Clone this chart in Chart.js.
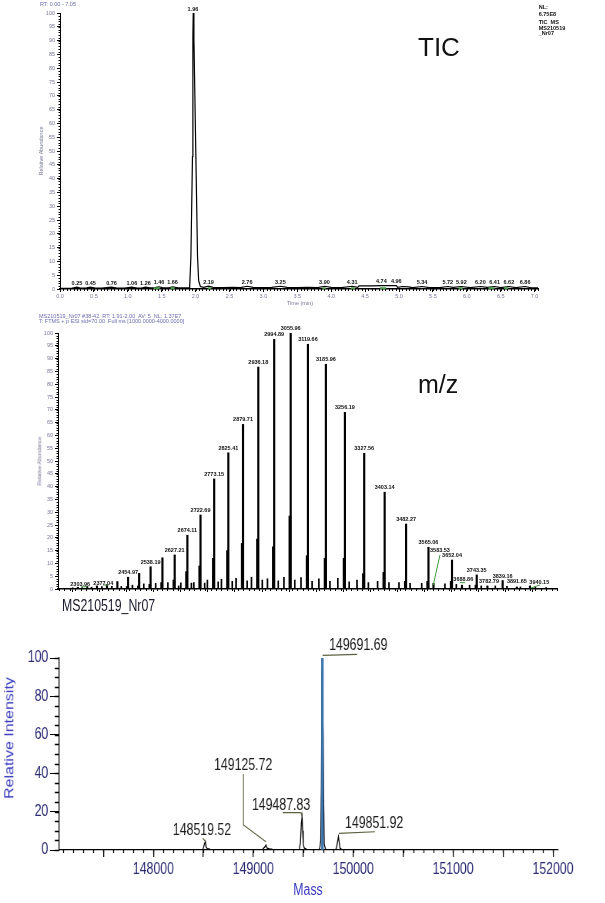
<!DOCTYPE html>
<html>
<head>
<meta charset="utf-8">
<title>MS210519_Nr07</title>
<script src="https://cdn.jsdelivr.net/npm/chart.js@4.4.1/dist/chart.umd.min.js"></script>
<style>
  html, body { margin: 0; padding: 0; background: #fff; }
  body { width: 605px; height: 903px; position: relative; overflow: hidden; font-family: Arial, "Liberation Sans", sans-serif; }
  .panel { position: absolute; left: 0; }
  .txt { position: absolute; white-space: nowrap; line-height: 1; }
  .tiny { font-size: 5.5px; color: #6b6bb0; }
  .nl { font-size: 5.5px; color: #111; font-weight: bold; left: 538.7px; }
  .rot { transform: translate(-50%, -50%) rotate(-90deg); }
</style>
</head>
<body>

<div class="panel" style="top:0;width:605px;height:310px"><canvas id="ticChart"></canvas></div>
<div class="panel" style="top:310px;width:605px;height:290px"><canvas id="mzChart"></canvas></div>

<!-- panel 3 is drawn wide and squeezed, like the narrow font of the original -->
<div class="panel" style="top:595px;width:786px;height:308px;transform:scaleX(0.77);transform-origin:0 0">
  <canvas id="massChart"></canvas>
  <div class="txt" style="left:80.5px;top:3.2px;font-size:16px;color:#1b1b2b">MS210519_Nr07</div>
  <div class="txt rot" style="left:11.7px;top:142.7px;font-size:16px;color:#3a3abf">Relative Intensity</div>
  <div class="txt" style="left:400px;top:286.5px;font-size:16px;color:#3a3abf;transform:translateX(-50%)">Mass</div>
</div>

<!-- header texts -->
<div class="txt tiny" style="left:40px;top:1.6px">RT: 0.00 - 7.05</div>
<div class="txt nl" style="top:5.3px">NL:</div>
<div class="txt nl" style="top:12px">6.75E8</div>
<div class="txt nl" style="top:20.3px">TIC&nbsp; MS</div>
<div class="txt nl" style="top:26px">MS210519</div>
<div class="txt nl" style="top:31.3px">_Nr07</div>
<div class="txt" style="left:418px;top:34px;font-size:26px;color:#111">TIC</div>
<div class="txt tiny rot" style="left:42px;top:151px;color:#77779a">Relative Abundance</div>
<div class="txt tiny" style="left:300px;top:300.8px;color:#77779a;transform:translateX(-50%)">Time (min)</div>

<div class="txt tiny" style="left:39px;top:313.6px">MS210519_Nr07 #38-42&nbsp; RT: 1.91-2.00&nbsp; AV: 5&nbsp; NL: 1.37E7</div>
<div class="txt tiny" style="left:39px;top:319.3px">T: FTMS + p ESI sid=70.00&nbsp; Full ms [1000.0000-4000.0000]</div>
<div class="txt" style="left:418px;top:372px;font-size:25px;color:#111">m/z</div>
<div class="txt tiny rot" style="left:40px;top:461px;color:#77779a">Relative Abundance</div>

<script>
// ---------- TIC chromatogram ----------
const ticTime = [0.00, 0.10, 0.18, 0.25, 0.30, 0.38, 0.45, 0.52, 0.62, 0.76, 0.84, 0.95, 1.06, 1.14, 1.20, 1.26,
  1.33, 1.40, 1.46, 1.52, 1.60, 1.66, 1.74, 1.84, 1.912, 1.931, 1.954, 1.960, 1.965, 1.975, 2.004, 2.028, 2.045,
  2.070, 2.12, 2.19, 2.26, 2.40, 2.55, 2.66, 2.76, 2.85, 3.00, 3.12, 3.25, 3.35, 3.50, 3.65, 3.80, 3.90, 4.00,
  4.15, 4.31, 4.39, 4.41, 4.60, 4.74, 4.96, 4.98, 5.05, 5.14, 5.20, 5.34, 5.45, 5.60, 5.72, 5.80, 5.92, 6.05,
  6.20, 6.30, 6.41, 6.50, 6.62, 6.72, 6.86, 6.95, 7.05];
const ticAbund = [0.2, 0.2, 0.3, 0.7, 0.3, 0.3, 0.7, 0.3, 0.3, 0.7, 0.3, 0.3, 0.7, 0.3, 0.3, 0.7,
  0.4, 0.5, 0.8, 0.4, 0.4, 0.8, 0.4, 0.4, 0.5, 12, 48, 91, 100, 91, 48, 12, 3,
  0.9, 0.6, 1.0, 0.6, 0.5, 0.6, 0.5, 1.0, 0.6, 0.5, 0.6, 1.0, 0.6, 0.5, 0.6, 0.5, 1.0, 0.6,
  0.5, 1.0, 0.6, 1.1, 1.1, 1.2, 1.2, 0.6, 0.9, 0.8, 0.5, 0.9, 0.5, 0.5, 0.9, 0.6, 0.9, 0.5,
  0.9, 0.6, 0.9, 0.5, 0.9, 0.5, 0.9, 0.4, 0.4];
const ticPeakTime = [0.25, 0.45, 0.76, 1.06, 1.26, 1.46, 1.66, 1.96, 2.19, 2.76, 3.25, 3.90, 4.31, 4.74, 4.96,
  5.34, 5.72, 5.92, 6.20, 6.41, 6.62, 6.86];
const ticPeakAbund = [0.7, 0.7, 0.7, 0.7, 0.7, 0.8, 0.8, 100, 1.0, 1.0, 1.0, 1.0, 1.0, 1.2, 1.2,
  0.9, 0.9, 0.9, 0.9, 0.9, 0.9, 0.9];
// green integration marks on the baseline
const ticMarkStart = [1.38, 1.63, 2.18, 3.87, 4.29, 4.72, 5.88, 6.32, 6.55];
const ticMarkEnd = [1.47, 1.69, 2.23, 3.92, 4.35, 4.81, 5.94, 6.41, 6.61];
const ticXTicks = [0, 0.5, 1, 1.5, 2, 2.5, 3, 3.5, 4, 4.5, 5, 5.5, 6, 6.5, 7];
const abundTicks = [0, 5, 10, 15, 20, 25, 30, 35, 40, 45, 50, 55, 60, 65, 70, 75, 80, 85, 90, 95, 100];

// ---------- m/z spectrum ----------
const mzMain = [2269.07, 2303.96, 2339.90, 2377.04, 2415.40, 2454.97, 2495.87, 2538.19, 2581.90, 2627.21,
  2674.11, 2722.69, 2773.15, 2825.41, 2879.71, 2936.18, 2994.89, 3055.96, 3119.66, 3185.96, 3256.19,
  3327.56, 3403.14, 3482.27, 3565.06, 3583.53, 3652.04, 3688.86, 3743.35, 3782.79, 3839.16, 3891.65, 3940.15];
const mzMainInt = [0.7, 1.0, 1.2, 1.6, 2.9, 4.6, 6.1, 8.7, 12.2, 13.3,
  21.0, 28.9, 43.0, 53.2, 64.3, 86.7, 97.5, 100, 95.6, 87.8, 69.0,
  53.0, 37.8, 25.4, 16.3, 2.2, 11.3, 1.5, 5.5, 1.2, 3.3, 0.8, 1.2];
const mzLabelled = [0, 1, 0, 1, 0, 1, 0, 1, 0, 1,
  1, 1, 1, 1, 1, 1, 1, 1, 1, 1, 1,
  1, 1, 1, 1, 1, 1, 1, 1, 1, 1, 1, 1];
// shoulders just below each charge state
const mzSat = [2451.9, 2492.8, 2535.2, 2578.9, 2624.2, 2671.1, 2719.7, 2770.2, 2822.4, 2876.7, 2933.2,
  2991.9, 3052.9, 3116.7, 3182.9, 3253.2, 3324.6, 3400.1, 3479.3, 3562.1, 3649.0, 3740.4];
const mzSatInt = [1.0, 1.2, 1.8, 2.5, 3.5, 6.8, 9.0, 12.0, 15.0, 17.8, 19.5,
  16.5, 28.5, 13.0, 12.0, 12.0, 6.0, 6.5, 3.0, 3.0, 3.0, 1.5];
// small adduct / noise peaks
const mzMinor = [2250, 2285, 2320, 2358, 2395, 2430, 2471, 2513, 2557, 2602, 2642, 2650, 2689, 2698, 2738,
  2748, 2788, 2800, 2840, 2854, 2895, 2911, 2951, 2970, 3010, 3031, 3071, 3094, 3135, 3160, 3201, 3230,
  3272, 3301, 3343, 3377, 3419, 3456, 3497, 3540, 3626, 3668, 3717, 3760, 3812, 3855, 3905, 3960, 4000];
const mzMinorInt = [0.5, 0.6, 0.7, 0.9, 1.0, 1.0, 1.5, 2.0, 2.2, 2.5, 1.2, 2.4, 2.3, 2.5, 2.3,
  3.5, 2.8, 3.8, 3.0, 4.2, 3.2, 4.6, 3.5, 4.0, 3.2, 4.6, 3.5, 4.5, 3.0, 4.0, 3.0, 4.2,
  2.8, 3.5, 2.5, 3.0, 2.5, 2.5, 2.2, 2.2, 2.0, 1.8, 1.5, 1.2, 1.2, 1.0, 0.8, 0.7, 0.6];

// ---------- deconvoluted mass spectrum ----------
const massProfile = [147055, 148490, 148500, 148510, 148519.5, 148528, 148540, 148560, 148575,
  149090, 149100, 149113, 149125.7, 149138, 149160, 149185, 149200,
  149460, 149472, 149481, 149488, 149494, 149500, 149510, 149530, 149545,
  149655, 149665, 149675, 149681, 149687, 149693, 149699, 149704, 149710, 149722, 149740,
  149820, 149832, 149842, 149851.9, 149860, 149868, 149880, 149895, 152050];
const massProfileInt = [0, 0, 1, 3, 4.5, 1.5, 0.6, 0.6, 0,
  0, 0.8, 1.4, 2.6, 1.0, 0.6, 0.4, 0,
  0, 4, 14, 17.2, 10, 3, 1, 0.5, 0,
  0, 1, 5, 33, 94, 94, 60, 26, 3, 0.5, 0,
  0, 1, 4, 6.9, 4, 1, 0.5, 0, 0];
const massPeaks = [148519.52, 149125.72, 149487.83, 149691.69, 149851.92];
const massPeakInt = [4.5, 2.6, 17.2, 100, 6.9];
const massTicks = [147500, 148000, 148500, 149000, 149500, 150000, 150500, 151000, 151500, 152000];
const intensityTicks = [0, 20, 40, 60, 80, 100];

Chart.defaults.font.family = 'Arial, "Liberation Sans", sans-serif';

// small ticks between the labelled ones
function minorTicks(cfg) {
  return {
    id: 'minorTicks',
    afterDraw(chart) {
      const { ctx, chartArea, scales: { x, y } } = chart;
      ctx.save();
      ctx.strokeStyle = '#000';
      ctx.lineWidth = cfg.width || 1;
      ctx.beginPath();
      for (let k = Math.ceil(x.min / cfg.xStep - 1e-9); k * cfg.xStep <= x.max + 1e-9; k++) {
        const px = Math.round(x.getPixelForValue(k * cfg.xStep)) + 0.5;
        ctx.moveTo(px, chartArea.bottom);
        ctx.lineTo(px, chartArea.bottom + cfg.xLen);
      }
      for (let k = Math.ceil(y.min / cfg.yStep - 1e-9); k * cfg.yStep <= y.max + 1e-9; k++) {
        const py = Math.round(y.getPixelForValue(k * cfg.yStep)) + 0.5;
        ctx.moveTo(chartArea.left, py);
        ctx.lineTo(chartArea.left - cfg.yLen, py);
      }
      ctx.stroke();
      ctx.restore();
    }
  };
}

// peak annotations, with optional leader lines
function peakLabels(items, style) {
  return {
    id: 'peakLabels',
    afterDatasetsDraw(chart) {
      const { ctx, scales: { x, y } } = chart;
      ctx.save();
      ctx.font = style.font;
      ctx.textAlign = 'center';
      ctx.textBaseline = 'middle';
      items.forEach(it => {
        const px = x.getPixelForValue(it.x);
        const py = y.getPixelForValue(it.y);
        const s = style.special[it.text] || {};
        const off = s.off || style.off;
        if (s.lead) {
          ctx.strokeStyle = s.leadColor || style.leadColor;
          ctx.lineWidth = style.leadWidth;
          ctx.beginPath();
          s.lead.forEach((p, k) => k ? ctx.lineTo(px + p[0], py + p[1]) : ctx.moveTo(px + p[0], py + p[1]));
          ctx.stroke();
        }
        ctx.fillStyle = style.color;
        ctx.fillText(it.text, px + off[0], py + off[1]);
      });
      ctx.restore();
    }
  };
}

function smallAxis(extra) {
  return Object.assign({
    grid: { drawOnChartArea: false, color: '#000', tickLength: 3, lineWidth: 1 },
    border: { color: '#000', width: 1 },
  }, extra);
}

// ---- panel 1: TIC ----
const ticPts = ticTime.map((t, i) => ({ x: t, y: ticAbund[i] }));
const ticMarks = [];
ticMarkStart.forEach((s, i) => {
  ticMarks.push({ x: s, y: 0.3 }, { x: ticMarkEnd[i], y: 0.3 }, { x: ticMarkEnd[i], y: null });
});

new Chart(document.getElementById('ticChart'), {
  type: 'line',
  data: {
    datasets: [
      { data: ticMarks, borderColor: '#3f9a3f', borderWidth: 2, pointRadius: 0, spanGaps: false },
      { data: ticPts, borderColor: '#000', borderWidth: 1.2, pointRadius: 0, tension: 0 }
    ]
  },
  options: {
    animation: false, responsive: true, maintainAspectRatio: false,
    layout: { padding: { top: 13, right: 67, bottom: 0, left: 0 } },
    plugins: { legend: { display: false }, tooltip: { enabled: false } },
    scales: {
      x: smallAxis({
        type: 'linear', min: 0, max: 7.05,
        border: { color: '#000', width: 1.5 },
        afterBuildTicks: s => { s.ticks = ticXTicks.map(v => ({ value: v })); },
        afterFit: s => { s.height = 21; },
        ticks: { font: { size: 5.5 }, color: '#77779a', padding: 0.7, maxRotation: 0, autoSkip: false,
          callback: v => v.toFixed(1) }
      }),
      y: smallAxis({
        min: 0, max: 100,
        afterBuildTicks: s => { s.ticks = abundTicks.map(v => ({ value: v })); },
        afterFit: s => { s.width = 60; },
        ticks: { font: { size: 5.5 }, color: '#77779a', padding: 2, autoSkip: false, callback: v => String(v) }
      })
    }
  },
  plugins: [
    minorTicks({ xStep: 0.05, xLen: 2, yStep: 1, yLen: 1.5 }),
    peakLabels(ticPeakTime.map((t, i) => ({ x: t, y: ticPeakAbund[i], text: t.toFixed(2) })),
      { font: 'bold 5.5px Arial, "Liberation Sans", sans-serif', color: '#111', off: [0, -4], special: {},
        leadColor: '#3f9a3f', leadWidth: 1 })
  ]
});

// ---- panel 2: m/z ----
const toPts = (xs, ys) => xs.map((v, i) => ({ x: v, y: ys[i] }));
const mzStyle = {
  font: 'bold 5.5px Arial, "Liberation Sans", sans-serif', color: '#111', off: [0, -4.5],
  leadColor: '#3f9a3f', leadWidth: 1,
  special: {
    '2303.96': { off: [-7, -2.4], lead: [[-6, 0.3], [0, 0.3]] },
    '2377.04': { off: [-3.7, -1.6], lead: [[-3.7, 0.1], [1.3, 0.1]] },
    '3583.53': { off: [6.5, -32.7], lead: [[6.5, -28.4], [-0.2, 1.6]] },
    '3688.86': { off: [1.3, -5.9], lead: [[-2, -2.5], [3, -2.5]] },
    '3782.79': { off: [1.6, -4.2] },
    '3891.65': { off: [0, -5] },
    '3940.15': { off: [9.3, -3.9], lead: [[1, 2.1], [10, -0.9]] }
  }
};
const mzItems = mzMain.map((v, i) => ({ x: v, y: mzMainInt[i], text: v.toFixed(2) }))
  .filter((it, i) => mzLabelled[i]);

new Chart(document.getElementById('mzChart'), {
  type: 'bar',
  data: {
    datasets: [
      { data: toPts(mzMain, mzMainInt), backgroundColor: '#000', barThickness: 1.5, grouped: false },
      { data: toPts(mzSat, mzSatInt), backgroundColor: '#000', barThickness: 2, grouped: false },
      { data: toPts(mzMinor, mzMinorInt), backgroundColor: '#000', barThickness: 1, grouped: false }
    ]
  },
  options: {
    animation: false, responsive: true, maintainAspectRatio: false,
    layout: { padding: { top: 23, right: 48, bottom: 0, left: 0 } },
    plugins: { legend: { display: false }, tooltip: { enabled: false } },
    scales: {
      x: smallAxis({
        type: 'linear', min: 2196, max: 4040, offset: false,
        border: { color: '#000', width: 1.5 },
        afterBuildTicks: s => {
          const t = [];
          for (let v = 2200; v <= 4000; v += 100) t.push({ value: v });
          s.ticks = t;
        },
        afterFit: s => { s.height = 11; },
        ticks: { display: false }
      }),
      y: smallAxis({
        min: 0, max: 100,
        afterBuildTicks: s => { s.ticks = abundTicks.map(v => ({ value: v })); },
        afterFit: s => { s.width = 58; },
        ticks: { font: { size: 5.5 }, color: '#77779a', padding: 2, autoSkip: false, callback: v => String(v) }
      })
    }
  },
  plugins: [minorTicks({ xStep: 20, xLen: 2, yStep: 1, yLen: 1.5 }), peakLabels(mzItems, mzStyle)]
});

// ---- panel 3: deconvoluted mass ----
const topPeak = massPeakInt.indexOf(Math.max(...massPeakInt));
const massStyle = {
  font: '16px Arial, "Liberation Sans", sans-serif', color: '#1c1c1c', off: [0, -12],
  leadColor: '#59623f', leadWidth: 1.2,
  special: {
    '148519.52': { off: [-4.3, -10.7], lead: [[-3.4, -3.1], [0, 0]] },
    '149125.72': { off: [-29.5, -79], lead: [[-29.1, -71], [-29.1, -20], [0, -3.3]] },
    '149487.83': { off: [-27.3, -11.3], lead: [[-25.1, -4.3], [-1.3, -4.3], [0, 0]] },
    '149691.69': { off: [46.5, -12.7], lead: [[0.3, -2.7], [45.2, -3.7]] },
    '149851.92': { off: [46.4, -12.7], lead: [[0.6, -3.4], [47.4, -5]] }
  }
};

new Chart(document.getElementById('massChart'), {
  type: 'line',
  data: {
    datasets: [
      { type: 'bar', data: [{ x: massPeaks[topPeak], y: massPeakInt[topPeak] }], backgroundColor: '#3b76b0',
        barThickness: 2.6, grouped: false, order: 0 },
      { type: 'line', data: toPts(massProfile, massProfileInt), borderColor: '#000', borderWidth: 1.3,
        pointRadius: 0, tension: 0, order: 1 }
    ]
  },
  options: {
    animation: false, responsive: true, maintainAspectRatio: false,
    layout: { padding: { top: 63, right: 61.3, bottom: 0, left: 0 } },
    plugins: { legend: { display: false }, tooltip: { enabled: false } },
    scales: {
      x: {
        type: 'linear', min: 147055, max: 152050, offset: false,
        grid: { drawOnChartArea: false, color: '#000', tickLength: 7, lineWidth: 1.3, offset: false },
        border: { color: '#000', width: 1.3 },
        afterBuildTicks: s => { s.ticks = massTicks.map(v => ({ value: v })); },
        afterFit: s => { s.height = 53; },
        ticks: { font: { size: 16 }, color: '#2b2b73', padding: 3.4, maxRotation: 0, autoSkip: false,
          callback: v => (v % 1000 === 0 ? String(v) : '') }
      },
      y: {
        min: 0, max: 100,
        grid: { drawOnChartArea: false, color: '#000', tickLength: 11.7, lineWidth: 1 },
        border: { color: '#000', width: 1.3 },
        afterBuildTicks: s => { s.ticks = intensityTicks.map(v => ({ value: v })); },
        afterFit: s => { s.width = 76.6; },
        ticks: { font: { size: 16 }, color: '#2b2b73', padding: 2.2, autoSkip: false, callback: v => String(v) }
      }
    }
  },
  plugins: [
    minorTicks({ xStep: 100, xLen: 3, yStep: 5, yLen: 5.5, width: 1.3 }),
    peakLabels(massPeaks.map((v, i) => ({ x: v, y: massPeakInt[i], text: v.toFixed(2) })), massStyle)
  ]
});
</script>
</body>
</html>
